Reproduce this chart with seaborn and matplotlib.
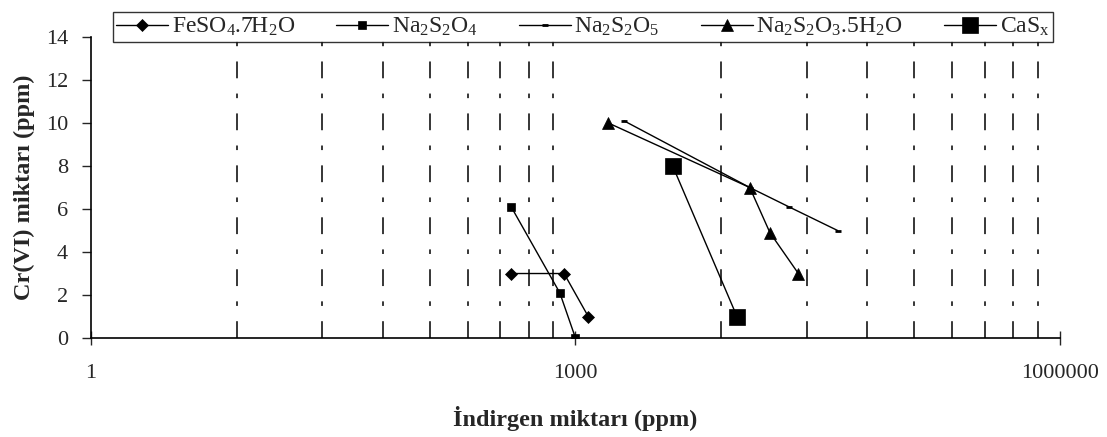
import matplotlib
matplotlib.use('Agg')
import matplotlib.pyplot as plt
import pandas as pd
import seaborn as sns

# data
fe_x = [400, 850, 1200]
fe_y = [3, 3, 1]
na2s2o4_x = [400, 800, 1000]
na2s2o4_y = [6.1, 2.1, 0]
na2s2o5_x = [2000, 12000, 21000, 42000]
na2s2o5_y = [10.1, 7, 6.1, 5]
na2s2o3_x = [1600, 12000, 16000, 24000]
na2s2o3_y = [10, 7, 4.9, 3]
casx_x = [4000, 10000]
casx_y = [8, 1]

labels = [r'FeSO$_4$.7H$_2$O', r'Na$_2$S$_2$O$_4$', r'Na$_2$S$_2$O$_5$',
          r'Na$_2$S$_2$O$_3$.5H$_2$O', r'CaS$_\mathrm{x}$']
x_ticks = [1, 1000, 1000000]
x_ticklabels = ['1', '1000', '1000000']
y_ticks = [0, 2, 4, 6, 8, 10, 12, 14]

sns.set_style('white')
plt.rcParams['font.family'] = ['Liberation Serif', 'DejaVu Serif']
plt.rcParams['mathtext.fontset'] = 'custom'
plt.rcParams['mathtext.rm'] = 'Liberation Serif'
plt.rcParams['mathtext.it'] = 'Liberation Serif:italic'
plt.rcParams['mathtext.bf'] = 'Liberation Serif:bold'

fig = plt.figure(figsize=(11.07, 4.37), dpi=100)
ax = fig.add_axes([0.0822, 0.2265, 0.8753, 0.6888])

series = [
    (fe_x, fe_y, 'D', 6.5),
    (na2s2o4_x, na2s2o4_y, 's', 6),
    (na2s2o5_x, na2s2o5_y, '_', 5),
    (na2s2o3_x, na2s2o3_y, '^', 8.5),
    (casx_x, casx_y, 's', 11),
]
for (xs, ys, mk, ms), lab in zip(series, labels):
    d = pd.DataFrame({'x': xs, 'y': ys})
    sns.lineplot(data=d, x='x', y='y', ax=ax, color='black', lw=1, sort=False,
                 marker=mk, markersize=ms, markeredgecolor='black',
                 markeredgewidth=2 if mk == '_' else 0.5, label=lab)

ax.set_xscale('log')
ax.set_xlim(1, 1000000)
ax.set_ylim(0, 14)

# gridlines the way excel puts them on a base-1000 log axis
grid_pos = [k ** 3 for k in range(2, 10)] + [1000] + [1000 * k ** 3 for k in range(2, 10)] + [1000000]
ax.set_xticks(x_ticks)
ax.set_xticklabels(x_ticklabels)
ax.set_xticks(grid_pos, minor=True)
ax.xaxis.set_minor_formatter(matplotlib.ticker.NullFormatter())
ax.grid(False)
ax.grid(which='minor', axis='x', color='black', lw=1.1, linestyle=(0, (11, 10, 3, 10)))
ax.set_yticks(y_ticks)

ax.tick_params(axis='x', which='major', direction='inout', length=10, width=1,
               labelsize=16, pad=14, bottom=True)
ax.tick_params(axis='x', which='minor', length=0)
ax.tick_params(axis='y', direction='out', length=6.5, width=1, labelsize=16,
               pad=10, left=True)

for s in ['top', 'right']:
    ax.spines[s].set_visible(False)
for s in ['left', 'bottom']:
    ax.spines[s].set_color('black')
    ax.spines[s].set_linewidth(1.2)

ax.set_xlabel('İndirgen miktarı (ppm)', fontsize=17.5, fontweight='bold', labelpad=16)
ax.set_ylabel('Cr(VI) miktarı (ppm)', fontsize=17.5, fontweight='bold', labelpad=8)

h, l = ax.get_legend_handles_labels()
ax.get_legend().remove()
leg = fig.legend(h, l, loc='center', ncol=5, mode='expand',
                 bbox_to_anchor=(0.102, 0.899, 0.849, 0.078), fontsize=17,
                 frameon=True, fancybox=False, borderaxespad=0, handlelength=2.2,
                 handletextpad=0.15, borderpad=0.15, columnspacing=1.2)
leg.get_frame().set_edgecolor('black')
leg.get_frame().set_linewidth(1)

fig.savefig('out.png', dpi=100)
